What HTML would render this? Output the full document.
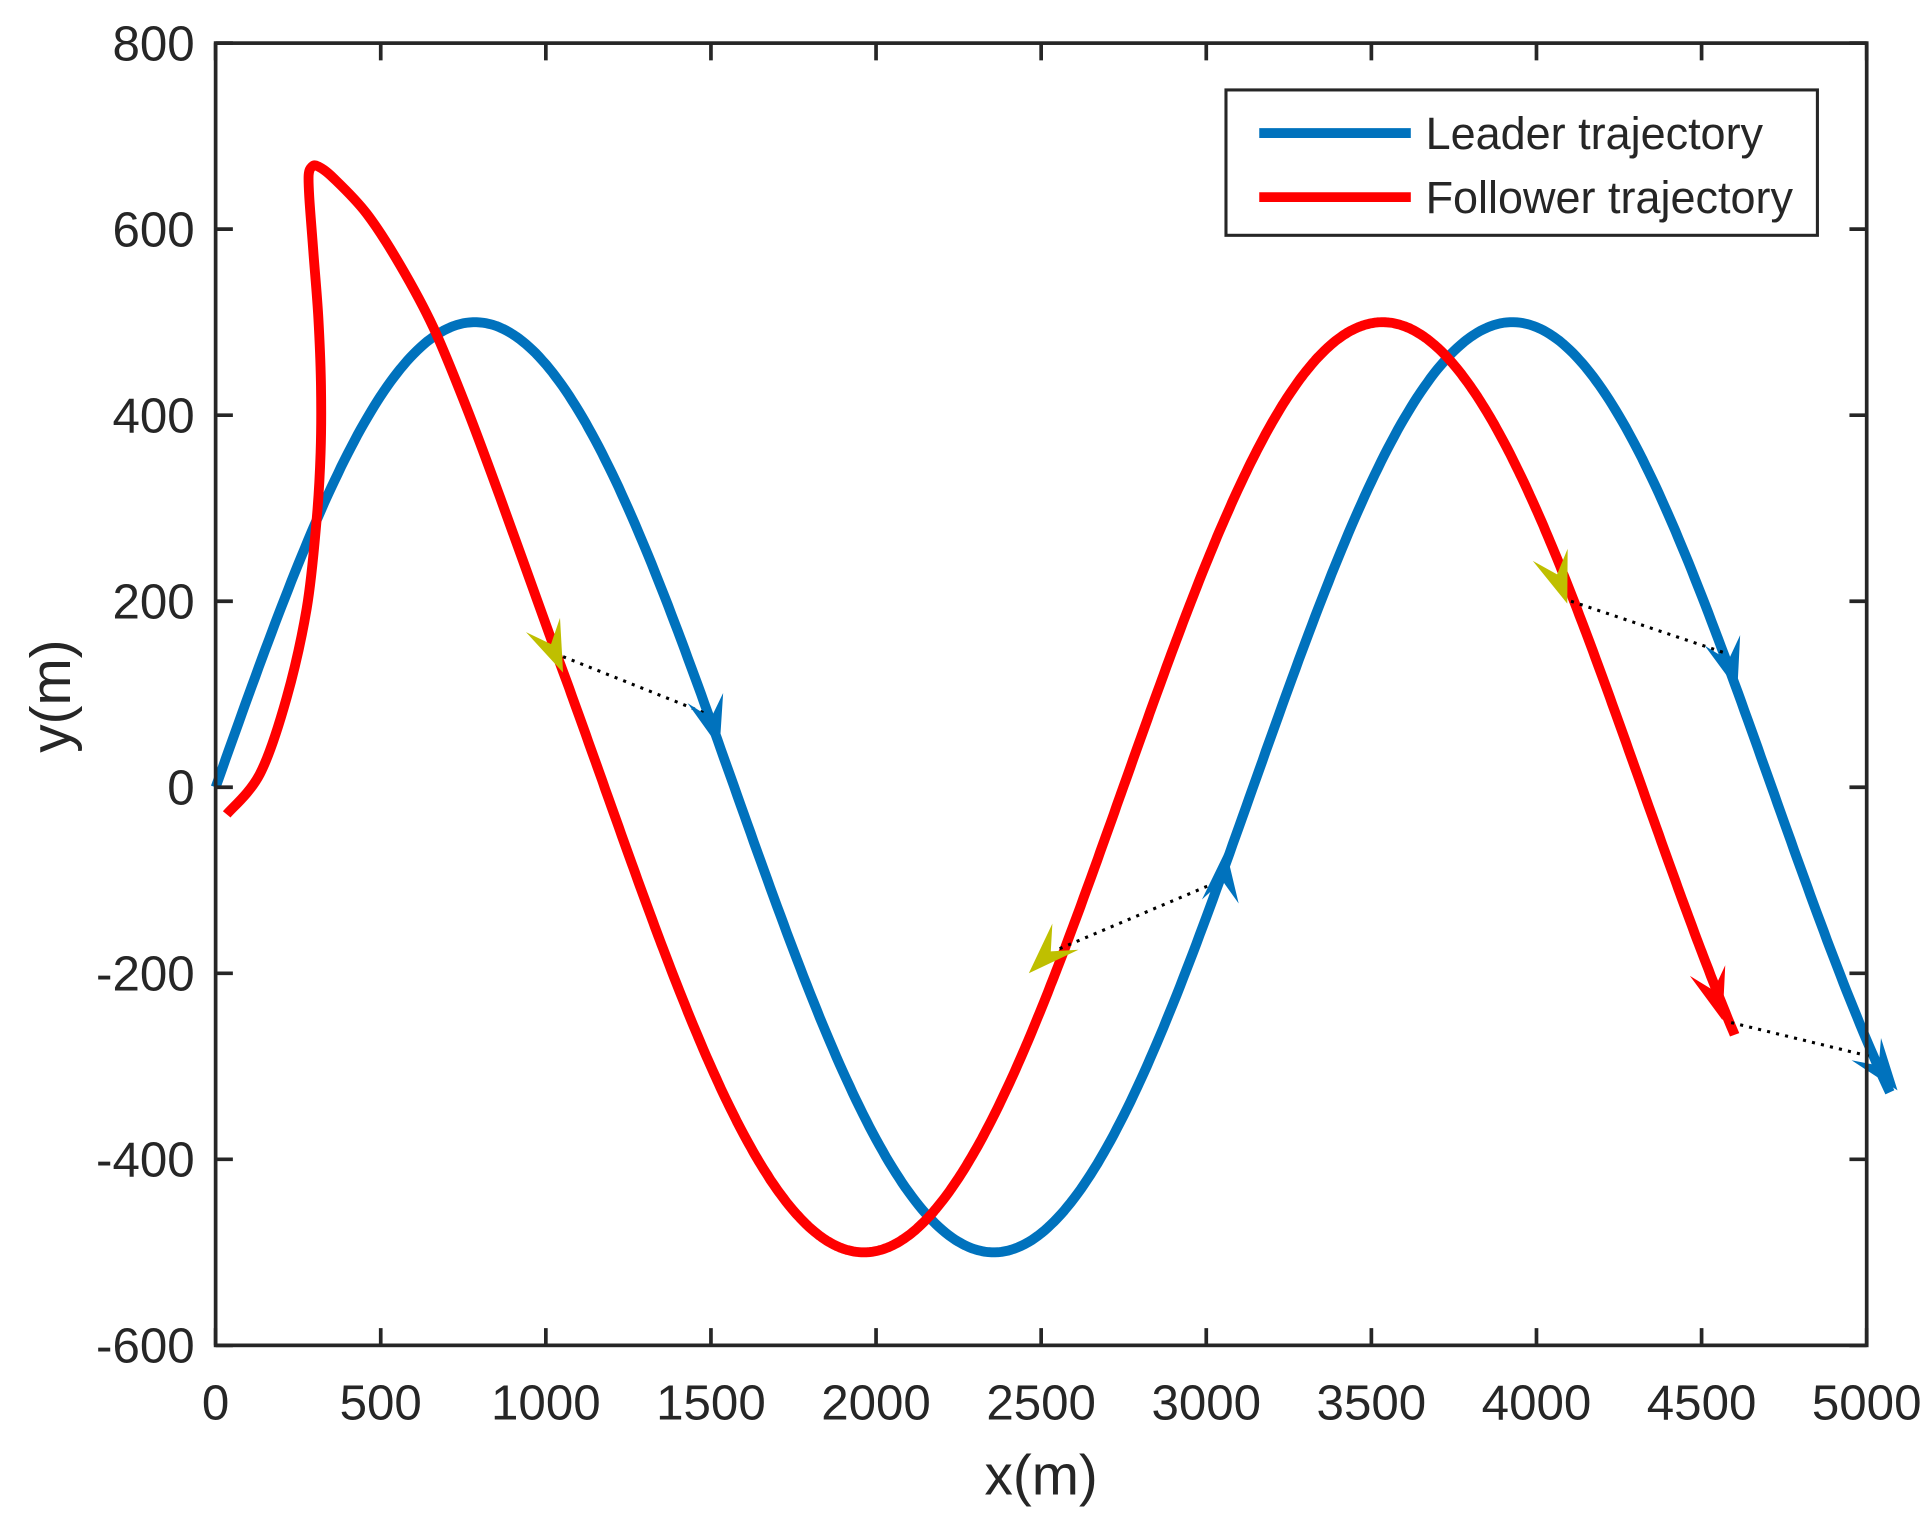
<!DOCTYPE html>
<html><head><meta charset="utf-8"><style>
html,body{margin:0;padding:0;background:#fff;}
svg{display:block;}
text{font-family:"Liberation Sans",Arial,sans-serif;fill:#262626;}
</style></head><body>
<svg id="s" width="1932" height="1524" viewBox="0 0 1568 1237" preserveAspectRatio="none" xmlns="http://www.w3.org/2000/svg">
<rect x="0" y="0" width="1568" height="1237" fill="#fff"/>
<g id="curves"></g>
<g id="arrows"></g>
<rect x="175" y="35" width="1340" height="1057" fill="none" stroke="#262626" stroke-width="3"/>
<g id="ticks" stroke="#262626" stroke-width="3"></g>
<g id="labels" font-size="40"></g>
<text x="845" y="1213" font-size="46" text-anchor="middle">x(m)</text>
<text transform="translate(57,565) rotate(-90)" font-size="46" text-anchor="middle">y(m)</text>
<rect x="995" y="73" width="480" height="118" fill="#fff" stroke="#262626" stroke-width="2.5"/>
<line x1="1022" y1="108" x2="1145" y2="108" stroke="#0072BD" stroke-width="8"/>
<line x1="1022" y1="160" x2="1145" y2="160" stroke="#FF0000" stroke-width="8"/>
<text x="1157" y="121" font-size="36.5">Leader trajectory</text>
<text x="1157" y="173" font-size="36.5">Follower trajectory</text>
</svg>
<script>
var NS="http://www.w3.org/2000/svg";
function X(x){return 175+x*0.268;}
function Y(y){return 35+(800-y)*0.755;}
function el(p,tag,a){var e=document.createElementNS(NS,tag);for(var k in a)e.setAttribute(k,a[k]);p.appendChild(e);return e;}
var cur=document.getElementById('curves');
var d="";
for(var x=0;x<=5075;x+=10){d+=(x?"L":"M")+X(x).toFixed(1)+","+Y(500*Math.sin(x/500)).toFixed(1);}
el(cur,'path',{d:d,fill:'none',stroke:'#0072BD','stroke-width':8,'stroke-linejoin':'round'});
var lp=[[184,661],[211,628],[232.6,566.5],[248.9,494],[257,421.6],[260.2,367.2],[260.5,312.9],[258.4,258.5],[254.3,204.2],[251,160],[250.5,142],[253,135.5],[258,135],[270.5,144.4],[297.6,173.4],[324.6,215],[351.7,265.8],[378.7,331],[405.8,403.5]];
for(var x=1020;x<=4600;x+=10){lp.push([X(x),Y(500*Math.sin((x+393)/500))]);}
d="M"+lp[0][0]+","+lp[0][1];
for(var i=0;i<lp.length-1;i++){var p0=lp[Math.max(i-1,0)],p1=lp[i],p2=lp[i+1],p3=lp[Math.min(i+2,lp.length-1)];
var c1=[p1[0]+(p2[0]-p0[0])/6,p1[1]+(p2[1]-p0[1])/6],c2=[p2[0]-(p3[0]-p1[0])/6,p2[1]-(p3[1]-p1[1])/6];
d+="C"+c1[0].toFixed(1)+","+c1[1].toFixed(1)+" "+c2[0].toFixed(1)+","+c2[1].toFixed(1)+" "+p2[0].toFixed(1)+","+p2[1].toFixed(1);}
el(cur,'path',{d:d,fill:'none',stroke:'#FF0000','stroke-width':8,'stroke-linejoin':'round'});
[[457,533,575,580],[860,770,990,715],[1275,488,1400,530],[1405,830,1520,858]].forEach(function(l){
el(cur,'line',{x1:l[0],y1:l[1],x2:l[2],y2:l[3],stroke:'#000','stroke-width':2.5,'stroke-dasharray':'2.5,5'});});
var ar=document.getElementById('arrows');
function arrow(tx,ty,bx,by,c){var dx=tx-bx,dy=ty-by,L=Math.hypot(dx,dy);dx/=L;dy/=L;var nx=-dy,ny=dx,len=42,w=15;
var p=[[tx,ty],[tx-len*dx+w*nx,ty-len*dy+w*ny],[tx-0.6*len*dx,ty-0.6*len*dy],[tx-len*dx-w*nx,ty-len*dy-w*ny]];
el(ar,'polygon',{points:p.map(function(q){return q[0].toFixed(1)+","+q[1].toFixed(1)}).join(" "),fill:c});}
arrow(584,607,572,565,'#0072BD');
arrow(995,690,990,735,'#0072BD');
arrow(1410,560,1398,520,'#0072BD');
arrow(1540,885,1512,848,'#0072BD');
arrow(1398,828,1385,785,'#FF0000');
arrow(457,546,441,508,'#BFBF00');
arrow(835,790,865,760,'#BFBF00');
arrow(1272,490,1258,450,'#BFBF00');
var tk=document.getElementById('ticks'),lb=document.getElementById('labels');
for(var v=0;v<=5000;v+=500){var px=X(v);
el(tk,'line',{x1:px,y1:1092,x2:px,y2:1078});el(tk,'line',{x1:px,y1:35,x2:px,y2:49});
var t=el(lb,'text',{x:px,y:1152,'text-anchor':'middle'});t.textContent=v;}
for(var v=-600;v<=800;v+=200){var py=Y(v);
el(tk,'line',{x1:175,y1:py,x2:189,y2:py});el(tk,'line',{x1:1515,y1:py,x2:1501,y2:py});
var t=el(lb,'text',{x:158,y:py+14,'text-anchor':'end'});t.textContent=v;}
</script>
</body></html>
